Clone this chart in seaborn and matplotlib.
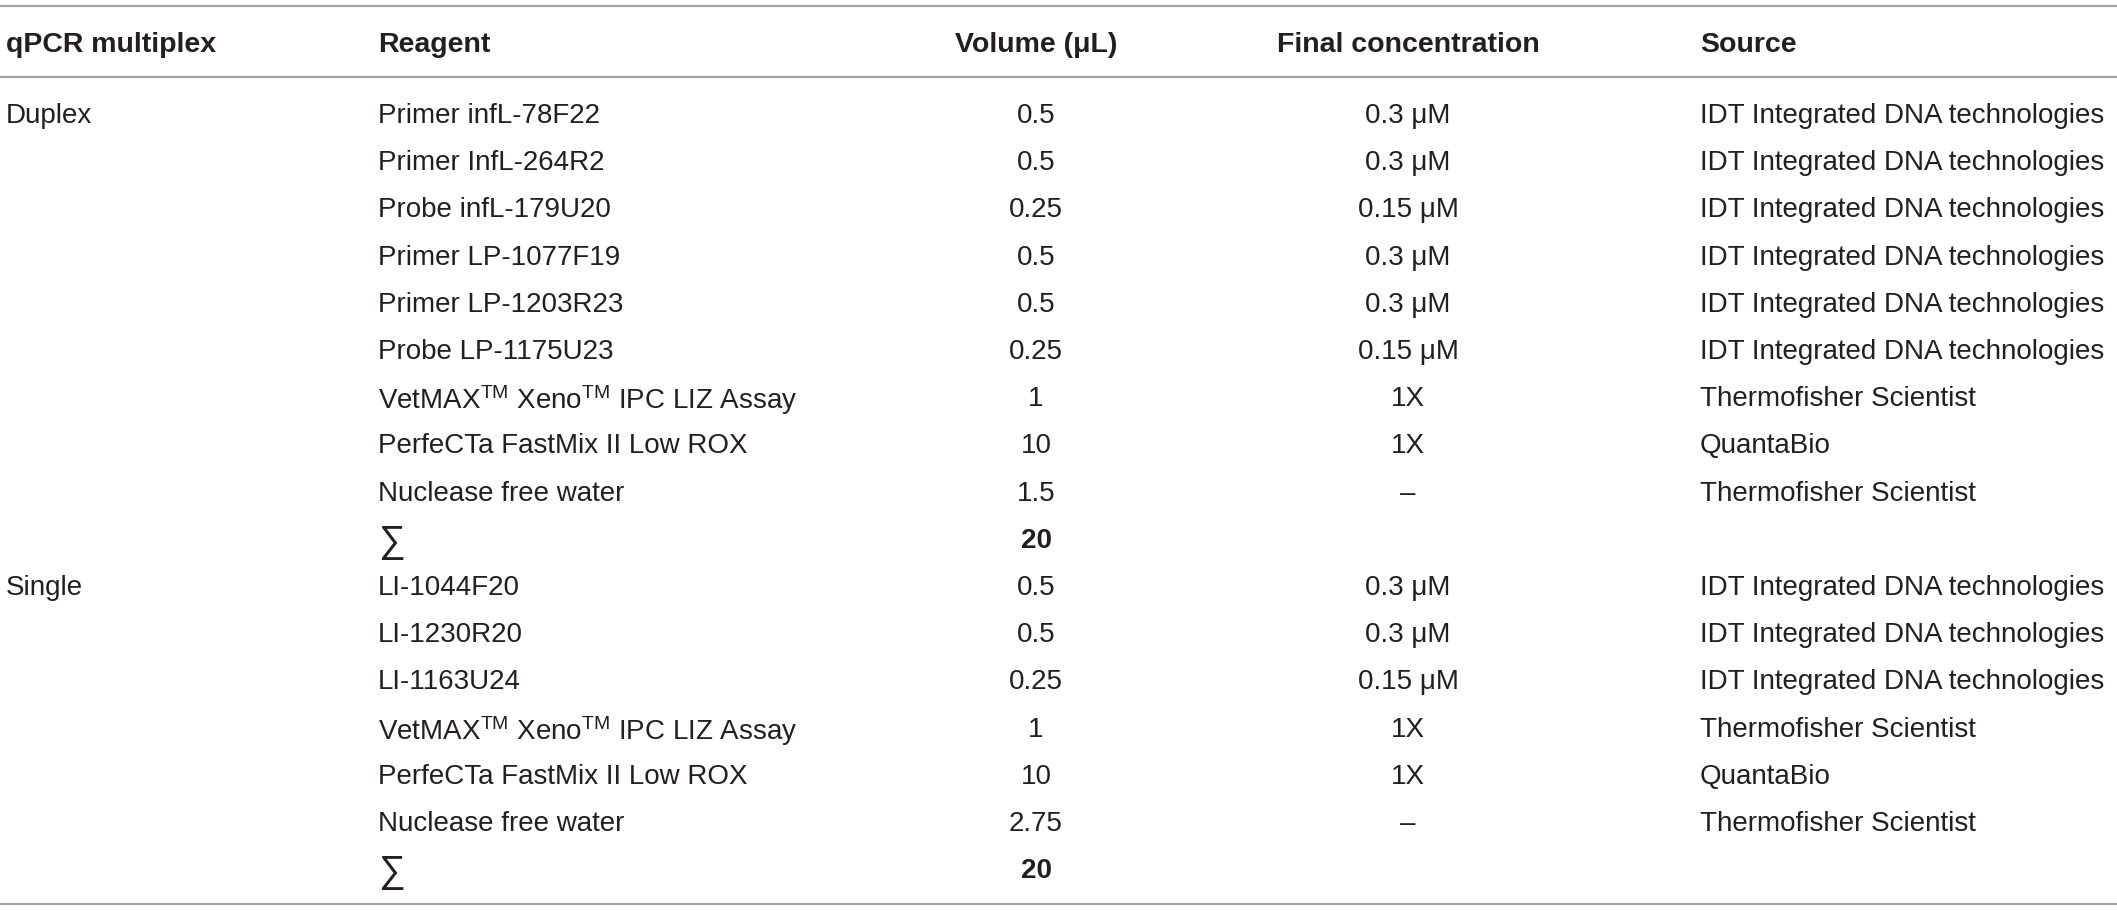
import matplotlib
matplotlib.use("Agg")
import matplotlib.pyplot as plt
import seaborn as sns

# table content
headers = ["qPCR multiplex", "Reagent", "Volume (μL)", "Final concentration", "Source"]

groups = ["Duplex", "", "", "", "", "", "", "", "", "",
          "Single", "", "", "", "", "", ""]

TM = r"$^{\mathrm{TM}}$"
reagents = ["Primer infL-78F22", "Primer InfL-264R2", "Probe infL-179U20",
            "Primer LP-1077F19", "Primer LP-1203R23", "Probe LP-1175U23",
            "VetMAX" + TM + " Xeno" + TM + " IPC LIZ Assay",
            "PerfeCTa FastMix II Low ROX", "Nuclease free water", "∑",
            "LI-1044F20", "LI-1230R20", "LI-1163U24",
            "VetMAX" + TM + " Xeno" + TM + " IPC LIZ Assay",
            "PerfeCTa FastMix II Low ROX", "Nuclease free water", "∑"]

volumes = ["0.5", "0.5", "0.25", "0.5", "0.5", "0.25", "1", "10", "1.5", "20",
           "0.5", "0.5", "0.25", "1", "10", "2.75", "20"]

concentrations = ["0.3 μM", "0.3 μM", "0.15 μM", "0.3 μM", "0.3 μM", "0.15 μM",
                  "1X", "1X", "–", "",
                  "0.3 μM", "0.3 μM", "0.15 μM", "1X", "1X", "–", ""]

IDT = "IDT Integrated DNA technologies"
sources = [IDT, IDT, IDT, IDT, IDT, IDT, "Thermofisher Scientist", "QuantaBio",
           "Thermofisher Scientist", "",
           IDT, IDT, IDT, "Thermofisher Scientist", "QuantaBio",
           "Thermofisher Scientist", ""]

sns.set_theme(style="white")
plt.rcParams['font.family'] = ['Liberation Sans', 'DejaVu Sans']
plt.rcParams['mathtext.fontset'] = 'custom'
plt.rcParams['mathtext.rm'] = 'Liberation Sans'
plt.rcParams['mathtext.it'] = 'Liberation Sans:italic'
plt.rcParams['mathtext.bf'] = 'Liberation Sans:bold'

W, H = 2117, 911
fig = plt.figure(figsize=(W / 100, H / 100), dpi=100)
ax = fig.add_axes([0, 0, 1, 1])
ax.set_xlim(0, W)
ax.set_ylim(H, 0)
ax.axis("off")

text_color = "#231f20"
line_color = "#a3a3a3"
head_fs = 20.5
body_fs = 20

# column anchors: (x, alignment)
cols = [(6, "left"), (378, "left"), (1036, "center"), (1408, "center"), (1700, "left")]

# rules
for y in (6, 77, 904):
    ax.plot([0, W], [y, y], color=line_color, lw=1.6, solid_capstyle="butt")

# header
for (x, ha), label in zip(cols, headers):
    ax.text(x, 42, label, ha=ha, va="center_baseline", fontsize=head_fs,
            fontweight="bold", color=text_color)

first_row, row_step = 113, 47.2
for i in range(len(reagents)):
    y = first_row + i * row_step
    is_sum = reagents[i] == "∑"
    cells = [groups[i], reagents[i], volumes[i], concentrations[i], sources[i]]
    for j, ((x, ha), cell) in enumerate(zip(cols, cells)):
        if not cell:
            continue
        weight = "bold" if (is_sum and j == 2) else "normal"
        size = body_fs + 7 if (is_sum and j == 1) else body_fs
        ax.text(x, y, cell, ha=ha, va="center_baseline", fontsize=size,
                fontweight=weight, color=text_color)

fig.savefig("out.png", dpi=100)
